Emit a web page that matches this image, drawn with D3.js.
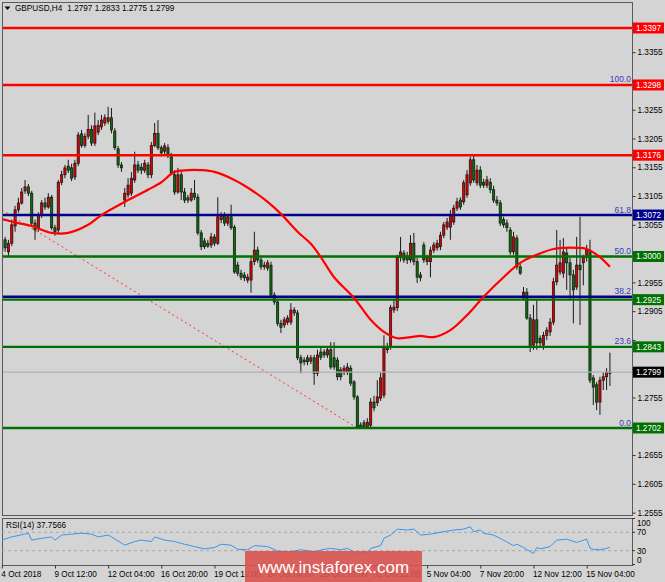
<!DOCTYPE html>
<html><head><meta charset="utf-8">
<script src="https://cdn.jsdelivr.net/npm/d3@7"></script>
<style>
html,body{margin:0;padding:0;background:#d4d4d4;}
svg{display:block;font-family:"Liberation Sans",Arial,sans-serif;}
</style></head><body>
<svg id="c" width="665" height="582"></svg>
<script>
// ---------- DATA ----------
const symbolTitle = "GBPUSD,H4";
const lastQuote = ["1.2797", "1.2833", "1.2775", "1.2799"];

const openP = [
1.3011,1.3029,1.3008,1.3023,1.3053,1.3081,1.3093,1.3114,1.3121,1.3110,
1.3058,1.3050,1.3072,1.3093,1.3086,1.3103,1.3050,1.3046,1.3129,1.3142,
1.3157,1.3154,1.3138,1.3162,1.3213,1.3193,1.3209,1.3221,1.3197,1.3216,
1.3225,1.3232,1.3235,1.3241,1.3218,1.3187,1.3159,1.3098,1.3107,1.3110,
1.3133,1.3159,1.3155,1.3150,1.3159,1.3142,1.3193,1.3214,1.3189,1.3183,
1.3189,1.3173,1.3142,1.3112,1.3142,1.3112,1.3102,1.3098,1.3110,1.3103,
1.3041,1.3027,1.3023,1.3020,1.3034,1.3023,1.3064,1.3072,1.3058,1.3069,
1.3051,1.2985,1.2971,1.2968,1.2959,1.2959,1.2991,1.3011,1.2994,1.2985,
1.2980,1.2985,1.2933,1.2921,1.2884,1.2881,1.2886,1.2886,1.2902,1.2902,
1.2824,1.2820,1.2824,1.2818,1.2824,1.2797,1.2834,1.2834,1.2829,1.2838,
1.2824,1.2820,1.2803,1.2799,1.2799,1.2806,1.2782,1.2756,1.2707,1.2711,
1.2704,1.2707,1.2747,1.2746,1.2754,1.2759,1.2838,1.2843,1.2907,1.2911,
1.2998,1.3006,1.3001,1.2994,1.3023,1.2991,1.2968,1.3020,1.2991,1.2991,
1.3011,1.3015,1.3017,1.3037,1.3051,1.3051,1.3060,1.3084,1.3098,1.3095,
1.3107,1.3128,1.3168,1.3128,1.3150,1.3129,1.3124,1.3129,1.3116,1.3098,
1.3093,1.3064,1.3058,1.3046,1.3008,1.3032,1.2982,1.2928,1.2938,1.2893,
1.2846,1.2890,1.2858,1.2846,1.2863,1.2869,1.2886,1.2956,1.2973,1.2971,
1.3006,1.2989,1.2968,1.2947,1.2985,1.2989,1.2998,1.3011,1.2789,1.2777,
1.2747,1.2785,1.2791,1.2797];

const highP = [
1.3037,1.3034,1.3029,1.3064,1.3088,1.3102,1.3119,1.3133,1.3126,1.3114,
1.3064,1.3077,1.3098,1.3102,1.3110,1.3107,1.3055,1.3133,1.3149,1.3159,
1.3168,1.3161,1.3168,1.3216,1.3220,1.3214,1.3246,1.3228,1.3250,1.3237,
1.3246,1.3247,1.3260,1.3258,1.3223,1.3192,1.3164,1.3119,1.3136,1.3147,
1.3182,1.3166,1.3162,1.3168,1.3164,1.3199,1.3232,1.3237,1.3193,1.3197,
1.3195,1.3180,1.3150,1.3154,1.3147,1.3119,1.3107,1.3119,1.3133,1.3109,
1.3046,1.3032,1.3029,1.3041,1.3039,1.3103,1.3077,1.3077,1.3074,1.3090,
1.3055,1.2991,1.2977,1.2973,1.2970,1.2998,1.3043,1.3017,1.3001,1.2991,
1.2994,1.2991,1.2938,1.2924,1.2890,1.2895,1.2898,1.2919,1.2912,1.2907,
1.2829,1.2825,1.2829,1.2829,1.2829,1.2838,1.2841,1.2839,1.2843,1.2851,
1.2851,1.2825,1.2808,1.2811,1.2815,1.2811,1.2785,1.2759,1.2712,1.2716,
1.2719,1.2754,1.2758,1.2785,1.2799,1.2863,1.2850,1.2916,1.2924,1.3003,
1.3034,1.3011,1.3008,1.3037,1.3041,1.2998,1.2973,1.3025,1.3003,1.3017,
1.3025,1.3029,1.3043,1.3060,1.3067,1.3081,1.3090,1.3102,1.3103,1.3133,
1.3150,1.3173,1.3176,1.3159,1.3157,1.3135,1.3140,1.3136,1.3123,1.3105,
1.3098,1.3069,1.3064,1.3051,1.3043,1.3037,1.2987,1.2947,1.2945,1.2900,
1.2916,1.2924,1.2863,1.2869,1.2877,1.2893,1.2963,1.3046,1.3029,1.3032,
1.3015,1.2998,1.2977,1.3034,1.3069,1.3003,1.3020,1.3029,1.2794,1.2782,
1.2791,1.2799,1.2806,1.2833];

const lowP = [
1.3003,1.3008,1.3001,1.3018,1.3043,1.3076,1.3090,1.3109,1.3105,1.3053,
1.3029,1.3043,1.3067,1.3081,1.3083,1.3046,1.3036,1.3041,1.3124,1.3136,
1.3145,1.3131,1.3133,1.3157,1.3189,1.3189,1.3204,1.3192,1.3192,1.3211,
1.3220,1.3227,1.3230,1.3214,1.3185,1.3154,1.3147,1.3086,1.3102,1.3105,
1.3128,1.3145,1.3143,1.3145,1.3136,1.3136,1.3190,1.3185,1.3174,1.3178,
1.3171,1.3142,1.3107,1.3109,1.3098,1.3093,1.3093,1.3095,1.3098,1.3037,
1.3011,1.3013,1.3015,1.3015,1.3018,1.3020,1.3058,1.3053,1.3053,1.3046,
1.2970,1.2966,1.2959,1.2957,1.2954,1.2937,1.2985,1.2989,1.2977,1.2977,
1.2975,1.2930,1.2916,1.2879,1.2867,1.2876,1.2881,1.2881,1.2897,1.2820,
1.2797,1.2811,1.2811,1.2813,1.2777,1.2792,1.2820,1.2824,1.2824,1.2804,
1.2803,1.2785,1.2785,1.2794,1.2794,1.2775,1.2751,1.2703,1.2702,1.2703,
1.2704,1.2702,1.2731,1.2740,1.2749,1.2754,1.2832,1.2838,1.2902,1.2905,
1.2991,1.2989,1.2987,1.2989,1.2985,1.2954,1.2957,1.2989,1.2985,1.2964,
1.3006,1.3010,1.3011,1.3032,1.3046,1.3029,1.3055,1.3079,1.3081,1.3090,
1.3102,1.3123,1.3128,1.3123,1.3119,1.3119,1.3119,1.3110,1.3093,1.3088,
1.3053,1.3050,1.3043,1.3003,1.3003,1.2977,1.2968,1.2924,1.2890,1.2834,
1.2838,1.2838,1.2843,1.2838,1.2855,1.2862,1.2881,1.2950,1.2968,1.2963,
1.2942,1.2924,1.2884,1.2942,1.2881,1.2950,1.2991,1.2780,1.2742,1.2733,
1.2725,1.2768,1.2768,1.2775];

const closeP = [
1.3029,1.3015,1.3023,1.3055,1.3081,1.3093,1.3112,1.3121,1.3110,1.3058,
1.3046,1.3072,1.3093,1.3086,1.3103,1.3050,1.3043,1.3129,1.3142,1.3154,
1.3150,1.3136,1.3162,1.3211,1.3193,1.3209,1.3221,1.3197,1.3227,1.3228,
1.3237,1.3241,1.3241,1.3220,1.3189,1.3159,1.3154,1.3110,1.3124,1.3136,
1.3159,1.3150,1.3150,1.3162,1.3142,1.3193,1.3214,1.3189,1.3180,1.3192,
1.3176,1.3145,1.3112,1.3142,1.3112,1.3098,1.3098,1.3110,1.3103,1.3041,
1.3017,1.3017,1.3018,1.3034,1.3023,1.3069,1.3072,1.3058,1.3069,1.3050,
1.2973,1.2971,1.2964,1.2963,1.2964,1.2991,1.3011,1.2994,1.2982,1.2982,
1.2989,1.2933,1.2921,1.2884,1.2877,1.2890,1.2893,1.2907,1.2907,1.2824,
1.2815,1.2817,1.2817,1.2824,1.2797,1.2829,1.2825,1.2829,1.2838,1.2808,
1.2808,1.2791,1.2791,1.2806,1.2808,1.2780,1.2756,1.2704,1.2702,1.2704,
1.2712,1.2747,1.2737,1.2756,1.2789,1.2843,1.2843,1.2911,1.2912,1.2998,
1.3008,1.2994,1.2994,1.3023,1.2991,1.2964,1.2963,1.2994,1.2998,1.3011,
1.3020,1.3023,1.3037,1.3055,1.3060,1.3072,1.3084,1.3095,1.3086,1.3128,
1.3142,1.3168,1.3133,1.3150,1.3124,1.3124,1.3133,1.3116,1.3098,1.3093,
1.3058,1.3055,1.3050,1.3008,1.3034,1.2982,1.2971,1.2938,1.2893,1.2843,
1.2890,1.2850,1.2850,1.2863,1.2872,1.2886,1.2956,1.2985,1.2989,1.3008,
1.2989,1.2968,1.2942,1.2985,1.2977,1.2998,1.3011,1.2785,1.2773,1.2747,
1.2785,1.2791,1.2799,1.2799];

// moving average (red curve), read at sample bars
const maIndex = [0,5,9,15,20,26,30,38,44,48,52,56,60,64,70,75,80,84,89,93,96,100,106,111,115,119,123,126,130,135,140,145,151,156,161,166,169,173,176,180,183];
const maValue = [1.3065,1.3058,1.3053,1.3041,1.3041,1.3055,1.3072,1.3098,1.3116,1.3129,1.3147,1.3150,1.3150,1.3147,1.3133,1.3116,1.3095,1.3074,1.3043,1.3022,1.2999,1.2964,1.2928,1.2890,1.2869,1.2858,1.2860,1.2862,1.2860,1.2872,1.2898,1.2930,1.2964,1.2989,1.3003,1.3013,1.3015,1.3015,1.3013,1.2999,1.2982];

// RSI(14), read at sample bars
const rsiIndex = [0,3,8,9,12,15,16,18,21,24,27,29,32,33,37,40,42,45,46,49,52,55,58,61,64,66,69,71,74,76,80,83,87,90,94,97,99,102,104,107,110,111,114,115,117,119,122,124,126,129,132,136,139,141,142,144,145,148,151,154,155,157,160,161,162,165,167,170,173,176,177,178,180,182,183];
const rsiValue = [53,60,68,53,57,60,53,64,66,68,66,60,64,60,42,50,53,50,60,53,50,44,39,34,37,44,42,33,32,41,39,29,28,32,28,33,35,32,35,24,24,35,41,57,64,77,75,77,64,66,70,75,77,82,71,75,68,64,53,41,44,37,24,37,34,39,53,55,48,55,36,33,32,35,37.76];
const rsiLevels = [70, 30];
const rsiTicks = [100, 70, 30, 0];
const rsiTitle = "RSI(14) 37.7566";

// horizontal lines
const resistancePrices = [1.3397, 1.3298, 1.3176];            // red
const bluePrices = [1.3072, 1.2930];                           // navy
const greenPrices = [1.3000, 1.2925, 1.2843, 1.2702];          // green
const currentPrice = 1.2799;

// Fibonacci labels
const fibLabels = ["100.0", "61.8", "50.0", "38.2", "23.6", "0.0"];
const fibPrices = [1.3298, 1.3072, 1.3000, 1.2930, 1.2843, 1.2702];

// price-axis boxes
const boxPrices = [1.3397, 1.3298, 1.3176, 1.3072, 1.3000, 1.2925, 1.2843, 1.2799, 1.2702];
const boxKinds  = ["red","red","red","blue","green","green","green","black","green"];

// dashed trend line (from, to)
const trendIndex = [0, 107];
const trendPrice = [1.3081, 1.2702];

// axis ticks
const priceTicks = [1.2555,1.2605,1.2655,1.2705,1.2755,1.2805,1.2855,1.2905,1.2955,1.3005,1.3055,1.3105,1.3155,1.3205,1.3255,1.3305,1.3355,1.3405];
const timeIndex  = [0,16,32,48,64,80,96,112,128,144,160,176];
const timeLabels = ["4 Oct 2018","9 Oct 12:00","12 Oct 04:00","16 Oct 20:00","19 Oct 12:00","24 Oct 04:00","26 Oct 20:00","31 Oct 12:00","5 Nov 04:00","7 Nov 20:00","12 Nov 12:00","15 Nov 04:00"];
const watermark = "www.instaforex.com";

// ---------- DRAWING ----------
const svg = d3.select("#c");
const W = 665, H = 582;
const L = 2, R = 632, T = 2, B = 515;
const rT = 518, rB = 565;

const COL = {red:"#ff0000", blue:"#00008b", green:"#007000", black:"#000000",
             bull:"#e00000", bear:"#0b6e0b", frame:"#5a5a5a", fib:"#3a3ab8"};

const x = d3.scaleLinear().domain([0, 183]).range([1.8, 1.8 + 183 * 3.323]);
const y = d3.scaleLinear().domain([1.2702, 1.3397]).range([428, 28]);
const ry = d3.scaleLinear().domain([0, 100]).range([564.5, 518.5]);

svg.append("rect").attr("width", W).attr("height", H).attr("fill", "#d4d4d4");

const defs = svg.append("defs");
defs.append("clipPath").attr("id","mainClip").append("rect")
  .attr("x", L).attr("y", T).attr("width", R - L).attr("height", B - T);
defs.append("clipPath").attr("id","rsiClip").append("rect")
  .attr("x", L).attr("y", rT).attr("width", R - L).attr("height", rB - rT);

const main = svg.append("g").attr("clip-path", "url(#mainClip)");

// candles
const bars = d3.range(openP.length).map(i => ({i, o: openP[i], h: highP[i], l: lowP[i], c: closeP[i]}));
const cg = main.append("g");
cg.selectAll("line.w").data(bars).join("line")
  .attr("x1", d => x(d.i)).attr("x2", d => x(d.i))
  .attr("y1", d => y(d.h)).attr("y2", d => y(d.l))
  .attr("stroke", "#1a1a1a").attr("stroke-width", 1);
cg.selectAll("rect.b").data(bars).join("rect")
  .attr("x", d => x(d.i) - 1.1).attr("width", 2.2)
  .attr("y", d => y(Math.max(d.o, d.c)))
  .attr("height", d => Math.max(0.8, Math.abs(y(d.o) - y(d.c))))
  .attr("fill", d => d.c >= d.o ? COL.bull : COL.bear)
  .attr("stroke", "#111").attr("stroke-width", 0.7);

// trend dashed line
main.append("line")
  .attr("x1", x(trendIndex[0])).attr("y1", y(trendPrice[0]))
  .attr("x2", x(trendIndex[1])).attr("y2", y(trendPrice[1]))
  .attr("stroke", "#ff3030").attr("stroke-width", 1).attr("stroke-dasharray", "2,3");

// current price line
main.append("line").attr("x1", L).attr("x2", R)
  .attr("y1", y(currentPrice)).attr("y2", y(currentPrice))
  .attr("stroke", "#a9b0b8").attr("stroke-width", 1.2);

function hline(p, color, w) {
  main.append("line").attr("x1", L).attr("x2", R)
    .attr("y1", y(p)).attr("y2", y(p))
    .attr("stroke", color).attr("stroke-width", w);
}
greenPrices.forEach(p => hline(p, COL.green, 2.4));
bluePrices.forEach(p => hline(p, COL.blue, 2.6));
resistancePrices.forEach(p => hline(p, COL.red, 2.6));

// moving average
main.append("path")
  .datum(maIndex.map((d, k) => [d, maValue[k]]))
  .attr("d", d3.line().x(d => x(d[0])).y(d => y(d[1])).curve(d3.curveCatmullRom.alpha(0.5)))
  .attr("fill", "none").attr("stroke", "#ff0000").attr("stroke-width", 2.2);

// fib labels
main.selectAll("text.fib").data(fibLabels).join("text")
  .attr("x", R - 1).attr("y", (d, k) => y(fibPrices[k]) - 2.5)
  .attr("text-anchor", "end").attr("font-size", 8.5).attr("fill", COL.fib)
  .text(d => d);

// frames
svg.append("rect").attr("x", L + 0.5).attr("y", T + 0.5).attr("width", R - L).attr("height", B - T)
  .attr("fill", "none").attr("stroke", COL.frame).attr("stroke-width", 1);
svg.append("rect").attr("x", L + 0.5).attr("y", rT + 0.5).attr("width", R - L).attr("height", rB - rT)
  .attr("fill", "none").attr("stroke", COL.frame).attr("stroke-width", 1);

// price axis (labels hidden behind a price box are not drawn)
const hiddenTick = t => boxPrices.some(p => Math.abs(y(p) - y(t)) < 9);
const pa = svg.append("g").attr("transform", `translate(${R + 0.5},0)`)
  .call(d3.axisRight(y).tickValues(priceTicks).tickSize(3).tickPadding(2)
    .tickFormat(t => hiddenTick(t) ? "" : d3.format(".4f")(t)));
pa.select(".domain").remove();
pa.selectAll(".tick line").attr("stroke", "#333");
pa.selectAll(".tick text").attr("font-size", 8.2).attr("fill", "#000")
  .attr("font-family", "'Liberation Sans',Arial,sans-serif");

// price boxes
const bg = svg.append("g");
boxPrices.forEach((p, k) => {
  const yy = y(p);
  bg.append("rect").attr("x", R + 1).attr("y", yy - 5.5).attr("width", 31).attr("height", 11)
    .attr("fill", COL[boxKinds[k]]);
  bg.append("text").attr("x", R + 4).attr("y", yy + 3)
    .attr("font-size", 8.2).attr("fill", "#fff").text(p.toFixed(4));
});

// RSI panel
const rg = svg.append("g").attr("clip-path", "url(#rsiClip)");
rsiLevels.forEach(v => {
  rg.append("line").attr("x1", L).attr("x2", R).attr("y1", ry(v)).attr("y2", ry(v))
    .attr("stroke", "#a8a8a8").attr("stroke-width", 1).attr("stroke-dasharray", "3,3");
});
rg.append("path")
  .datum(rsiIndex.map((d, k) => [d, rsiValue[k]]))
  .attr("d", d3.line().x(d => x(d[0])).y(d => ry(d[1])))
  .attr("fill", "none").attr("stroke", "#3a95f0").attr("stroke-width", 1);
svg.append("text").attr("x", 6).attr("y", 528).attr("font-size", 8.2).attr("fill", "#000").text(rsiTitle);

rsiTicks.forEach(v => {
  const yy = Math.min(Math.max(ry(v), 523), 559.5);
  svg.append("line").attr("x1", R).attr("x2", R + 3).attr("y1", ry(v)).attr("y2", ry(v)).attr("stroke", "#333");
  svg.append("text").attr("x", R + 5).attr("y", yy + 3).attr("font-size", 8.2).attr("fill", "#000").text(v);
});

// time axis
const ta = svg.append("g").attr("transform", `translate(0,${rB + 0.5})`)
  .call(d3.axisBottom(x).tickValues(timeIndex).tickSize(3).tickPadding(3).tickFormat((d, k) => timeLabels[k]));
ta.select(".domain").remove();
ta.selectAll(".tick line").attr("stroke", "#333");
ta.selectAll(".tick text").attr("text-anchor", "start").attr("dx", -1)
  .attr("font-size", 8.2).attr("fill", "#000").attr("font-family", "'Liberation Sans',Arial,sans-serif");

// header
svg.append("path").attr("d", "M4.5,6.5 L10.5,6.5 L7.5,10 Z").attr("fill", "#000");
const t1 = svg.append("text").attr("x", 15).attr("y", 11).attr("font-size", 8.2).attr("fill", "#000").text(symbolTitle);
const t1w = t1.node().getComputedTextLength();
svg.append("text").attr("x", 15 + t1w + 5).attr("y", 11).attr("font-size", 8.2).attr("fill", "#000").text(lastQuote.join(" "));

// watermark
svg.append("rect").attr("x", 245).attr("y", 551).attr("width", 177).attr("height", 31)
  .attr("fill", "#d9534f").attr("opacity", 0.9);
svg.append("text").attr("x", 333.5).attr("y", 573).attr("text-anchor", "middle")
  .attr("font-size", 17).attr("fill", "#fff").text(watermark);
</script>
</body></html>
